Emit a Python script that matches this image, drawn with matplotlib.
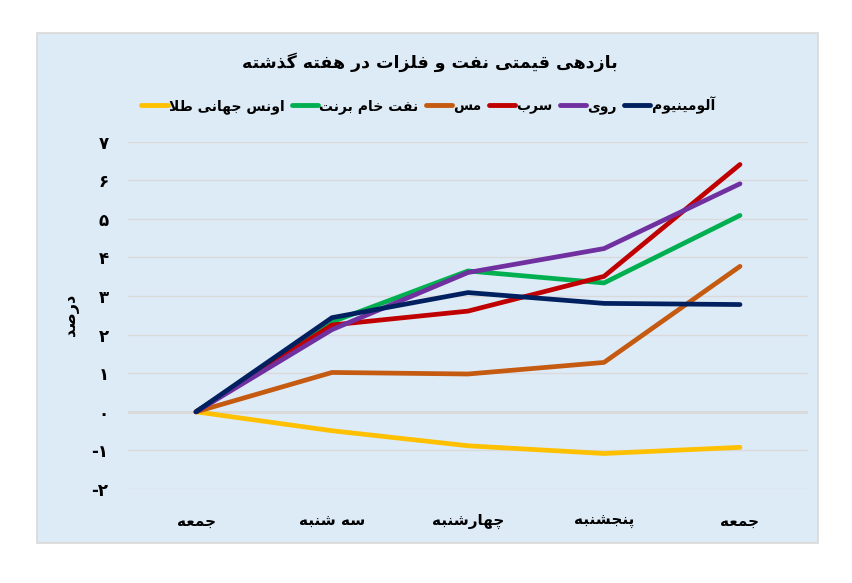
import matplotlib
matplotlib.use('Agg')
import matplotlib.pyplot as plt
from matplotlib import font_manager
from matplotlib.ft2font import FT2Font
from matplotlib.patches import Rectangle

# data (percent)
days = ['جمعه', 'سه شنبه', 'چهارشنبه', 'پنجشنبه', 'جمعه']
gold = [0, -0.49, -0.88, -1.08, -0.92]
brent = [0, 2.33, 3.65, 3.34, 5.09]
copper = [0, 1.02, 0.98, 1.28, 3.77]
lead = [0, 2.25, 2.61, 3.51, 6.41]
zinc = [0, 2.13, 3.61, 4.23, 5.91]
aluminium = [0, 2.44, 3.09, 2.81, 2.78]

names = ['اونس جهانی طلا', 'نفت خام برنت', 'مس', 'سرب', 'روی', 'آلومینیوم']
colors = ['#FFC000', '#00B050', '#C55A11', '#C00000', '#7030A0', '#002060']
series = [gold, brent, copper, lead, zinc, aluminium]

title = 'بازدهی قیمتی نفت و فلزات در هفته گذشته'
ylabel = 'درصد'
yticks = [-2, -1, 0, 1, 2, 3, 4, 5, 6, 7]

# very small persian shaper: matplotlib does no arabic joining itself
DUAL = {'ب': 0xFE8F, 'پ': 0xFB56, 'ت': 0xFE95, 'ث': 0xFE99, 'ج': 0xFE9D, 'چ': 0xFB7A,
        'ح': 0xFEA1, 'خ': 0xFEA5, 'س': 0xFEB1, 'ش': 0xFEB5, 'ص': 0xFEB9, 'ض': 0xFEBD,
        'ط': 0xFEC1, 'ظ': 0xFEC5, 'ع': 0xFEC9, 'غ': 0xFECD, 'ف': 0xFED1, 'ق': 0xFED5,
        'ک': 0xFB8E, 'گ': 0xFB92, 'ل': 0xFEDD, 'م': 0xFEE1, 'ن': 0xFEE5, 'ه': 0xFEE9,
        'ی': 0xFBFC}
RIGHT = {'ا': 0xFE8D, 'آ': 0xFE81, 'د': 0xFEA9, 'ذ': 0xFEAB, 'ر': 0xFEAD, 'ز': 0xFEAF,
         'ژ': 0xFB8A, 'و': 0xFEED}
LAMALEF = {'ا': 0xFEFB, 'آ': 0xFEF5}


def fa(text):
    out = []
    i = 0
    n = len(text)
    while i < n:
        c = text[i]
        prev = text[i-1] if i > 0 else ''
        nxt = text[i+1] if i < n-1 else ''
        jp = prev in DUAL and (c in DUAL or c in RIGHT)
        if c == 'ل' and nxt in LAMALEF:
            out.append(chr(LAMALEF[nxt] + (1 if jp else 0)))
            i += 2
            continue
        jn = c in DUAL and (nxt in DUAL or nxt in RIGHT)
        if c in DUAL:
            form = 3 if (jp and jn) else 1 if jp else 2 if jn else 0
            out.append(chr(DUAL[c] + form))
        elif c in RIGHT:
            out.append(chr(RIGHT[c] + (1 if jp else 0)))
        else:
            out.append(c)
        i += 1
    return ''.join(reversed(out))


def fa_num(v):
    s = str(abs(v)).translate(str.maketrans('0123456789', '۰۱۲۳۴۵۶۷۸۹'))
    return '-' + s if v < 0 else s


plt.rcParams['font.family'] = 'DejaVu Sans'
# use bold only if the bold face carries the persian forms
weight = 'bold'
path = font_manager.findfont(font_manager.FontProperties(family='DejaVu Sans', weight='bold'))
if FT2Font(path).get_char_index(0xFB93) == 0:
    weight = 'normal'

W, H = 852, 583
fig = plt.figure(figsize=(W/100, H/100), dpi=100)
fig.patches.append(Rectangle((37/W, 1-543/H), (818-37)/W, (543-33)/H, transform=fig.transFigure,
                             facecolor='#DDEBF7', edgecolor='#D9D9D9', lw=1.2, zorder=-10))

ax = fig.add_axes([128/W, 1-489/H, (808-128)/W, (489-141.7)/H])
ax.set_facecolor('none')
x = range(len(days))
for vals, c, nm in zip(series, colors, names):
    ax.plot(x, vals, color=c, lw=3.4, solid_capstyle='round', solid_joinstyle='round',
            label=fa(nm), zorder=3)

ax.set_xlim(-0.5, len(days)-0.5)
ax.set_ylim(-2, 7)
ax.set_yticks(yticks)
ax.set_yticklabels([fa_num(v) for v in yticks], fontsize=12, fontweight=weight)
ax.set_xticks(list(x))
ax.set_xticklabels([fa(d) for d in days], fontsize=11, fontweight=weight)
ax.tick_params(length=0)
ax.tick_params(axis='y', pad=14)
ax.tick_params(axis='x', pad=18)
for s in ax.spines.values():
    s.set_visible(False)
ax.grid(axis='y', color='#D9D9D9', lw=1)
ax.axhline(0, color='#D9D9D9', lw=2.2, zorder=1)
ax.set_axisbelow(True)

fig.text(72/W, 1-315/H, fa(ylabel), rotation=90, ha='center', va='center',
         fontsize=11.5, fontweight=weight)
fig.text(430/W, 1-62/H, fa(title), ha='center', va='center', fontsize=12.5, fontweight=weight)

leg = fig.legend(loc='center', bbox_to_anchor=(428/W, 1-105/H), ncol=6, frameon=False,
                 handlelength=1.9, handletextpad=0.1, columnspacing=0.5,
                 prop={'size': 10, 'weight': weight})
for ln in leg.get_lines():
    ln.set_linewidth(3.5)

fig.savefig('out.png', dpi=100)
